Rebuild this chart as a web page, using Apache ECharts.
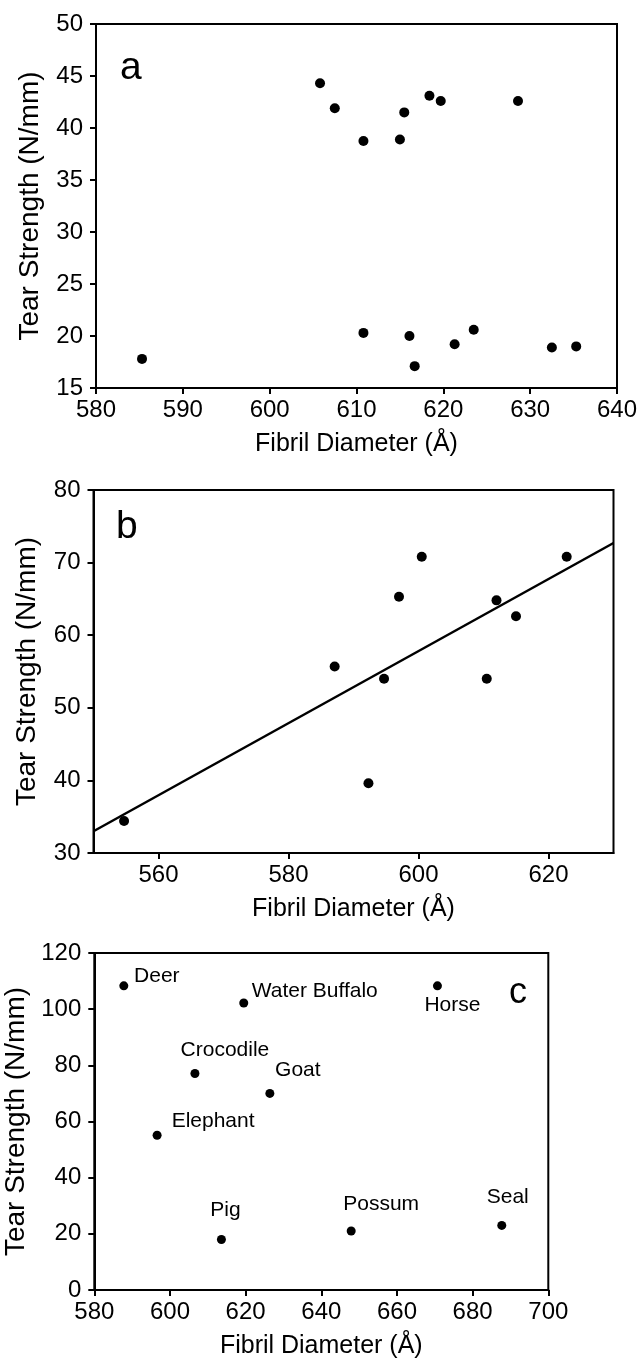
<!DOCTYPE html>
<html><head><meta charset="utf-8">
<script src="https://cdn.jsdelivr.net/npm/echarts@6/dist/echarts.min.js"></script>
<style>html,body{margin:0;padding:0;background:#fff}#chart{width:637px;height:1366px}</style>
</head><body><div id="chart"></div>
<script>
// ---------- data ----------
// panel a
const aDiameter = [585.3, 605.8, 607.5, 610.8, 615.0, 615.5, 618.4, 619.7, 628.6, 610.8, 616.1, 616.7, 621.3, 623.5, 632.5, 635.3];
const aStrength = [17.8, 44.3, 41.9, 38.75, 38.9, 41.5, 43.1, 42.6, 42.6, 20.3, 20.0, 17.1, 19.2, 20.6, 18.9, 19.0];
// panel b
const bDiameter = [554.7, 587.1, 592.3, 594.7, 597.0, 600.5, 610.5, 612.0, 615.0, 622.8];
const bStrength = [34.4, 55.7, 39.6, 54.0, 65.3, 70.8, 54.0, 64.8, 62.6, 70.8];
const bFitDiameter = [550, 630];
const bFitStrength = [33.0, 72.7];
// panel c
const cSpecies = ['Deer', 'Water Buffalo', 'Horse', 'Crocodile', 'Goat', 'Elephant', 'Pig', 'Possum', 'Seal'];
const cDiameter = [587.8, 619.5, 670.7, 606.6, 626.4, 596.6, 613.6, 647.9, 687.7];
const cStrength = [108.3, 102.2, 108.3, 77.1, 70.0, 55.1, 18.0, 21.0, 23.0];
// tick values
const aXTicks = [580, 590, 600, 610, 620, 630, 640];
const aYTicks = [15, 20, 25, 30, 35, 40, 45, 50];
const bXTicks = [560, 580, 600, 620];
const bYTicks = [30, 40, 50, 60, 70, 80];
const cXTicks = [580, 600, 620, 640, 660, 680, 700];
const cYTicks = [0, 20, 40, 60, 80, 100, 120];
const xTitle = 'Fibril Diameter (Å)';
const yTitle = 'Tear Strength (N/mm)';
const panelLetters = ['a', 'b', 'c'];

// ---------- styles ----------
const FONT = "'Liberation Sans', Arial, Helvetica, sans-serif";
const cLabelOffsets = [[33, -10], [71, -12], [15, 19], [30, -23], [28, -23], [56, -14], [4, -29], [30, -27], [6, -28]];

function axisBase(extra) {
  return Object.assign({
    type: 'value',
    axisLine: {show: true, onZero: false, lineStyle: {color: '#000', width: 2}},
    axisTick: {show: true, inside: false, length: 6, lineStyle: {color: '#000', width: 2}},
    splitLine: {show: false},
    nameLocation: 'middle'
  }, extra);
}
function xAx(gi, ticks, nameGap) {
  return axisBase({
    gridIndex: gi, min: ticks[0], max: ticks[ticks.length - 1], interval: ticks[1] - ticks[0],
    name: xTitle, nameGap: nameGap,
    nameTextStyle: {color: '#000', fontSize: 25, fontFamily: FONT},
    axisLabel: {color: '#000', fontSize: 24, fontFamily: FONT, margin: 10}
  });
}
function yAx(gi, ticks, nameGap) {
  return axisBase({
    gridIndex: gi, min: ticks[0], max: ticks[ticks.length - 1], interval: ticks[1] - ticks[0],
    name: yTitle, nameGap: nameGap,
    nameTextStyle: {color: '#000', fontSize: 28, fontFamily: FONT},
    axisLabel: {color: '#000', fontSize: 24, fontFamily: FONT, margin: 13}
  });
}

const bX = xAx(1, bXTicks, 44);
bX.min = 550; bX.max = 630;
bX.axisLabel.customValues = bXTicks;
bX.axisTick.customValues = bXTicks;

const gridStyle = {show: true, borderColor: '#000', borderWidth: 2, backgroundColor: 'transparent',
                   containLabel: false, outerBoundsMode: 'none'};
const dotStyle = {color: '#000', opacity: 1};

const option = {
  animation: false,
  backgroundColor: '#fff',
  grid: [
    Object.assign({left: 96, right: 20, top: 24, height: 364}, gridStyle),
    Object.assign({left: 93.5, right: 23.5, top: 490, height: 363}, gridStyle),
    Object.assign({left: 94.3, right: 88.7, top: 953, height: 337}, gridStyle)
  ],
  xAxis: [xAx(0, aXTicks, 44), bX, xAx(2, cXTicks, 44)],
  yAxis: [yAx(0, aYTicks, 52), yAx(1, bYTicks, 52), yAx(2, cYTicks, 57)],
  graphic: [
    {type: 'text', left: 120, top: 49, style: {text: panelLetters[0], fontSize: 39, fontFamily: FONT, fill: '#000'}},
    {type: 'text', left: 116, top: 508, style: {text: panelLetters[1], fontSize: 39, fontFamily: FONT, fill: '#000'}},
    {type: 'text', left: 509, top: 975, style: {text: panelLetters[2], fontSize: 36, fontFamily: FONT, fill: '#000'}}
  ],
  series: [
    {type: 'scatter', xAxisIndex: 0, yAxisIndex: 0, symbolSize: 10, itemStyle: dotStyle,
     data: aDiameter.map((d, i) => [d, aStrength[i]])},
    {type: 'line', xAxisIndex: 1, yAxisIndex: 1, showSymbol: false, symbol: 'none',
     lineStyle: {color: '#000', width: 2.5, opacity: 1},
     data: bFitDiameter.map((d, i) => [d, bFitStrength[i]])},
    {type: 'scatter', xAxisIndex: 1, yAxisIndex: 1, symbolSize: 10, itemStyle: dotStyle,
     data: bDiameter.map((d, i) => [d, bStrength[i]])},
    {type: 'scatter', xAxisIndex: 2, yAxisIndex: 2, symbolSize: 9, itemStyle: dotStyle,
     label: {show: true, position: 'inside', formatter: '{b}', color: '#000', fontSize: 21, fontFamily: FONT,
             align: 'center', verticalAlign: 'middle'},
     data: cDiameter.map((d, i) => ({name: cSpecies[i], value: [d, cStrength[i]], label: {offset: cLabelOffsets[i]}}))}
  ]
};
const chart = echarts.init(document.getElementById('chart'), null, {renderer: 'canvas'});
chart.setOption(option);
</script>
</body></html>
